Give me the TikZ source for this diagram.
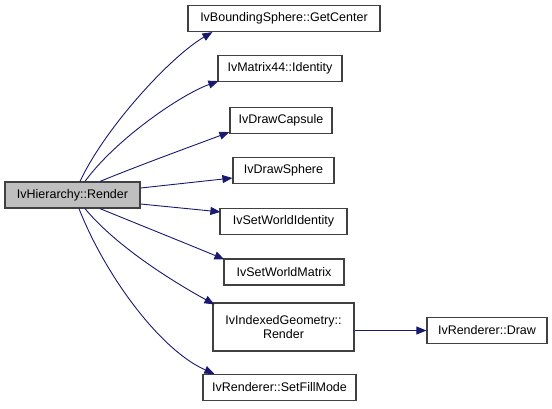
\documentclass[tikz,border=0pt]{standalone}
\usepackage{fontspec}
\setmainfont{Liberation Sans}
\usetikzlibrary{arrows.meta}
\definecolor{edgeblue}{HTML}{191970}
\definecolor{boxline}{HTML}{404040}
\definecolor{boxfill}{HTML}{BFBFBF}
\begin{document}
\begin{tikzpicture}[x=1pt,y=1pt,
  fn/.style={draw=boxline, line width=1.2pt, fill=white, inner sep=0pt, minimum height=26pt,
    font=\fontsize{12.5}{14.5}\selectfont, align=center},
  call/.style={draw=edgeblue, line width=0.9pt, -{Triangle[length=10pt,width=8pt]}}]
\useasboundingbox (0,0) rectangle (552,-408);
\node[fn, fill=boxfill, minimum width=135pt] (render) at (72.5,-195) {IvHierarchy::Render};
\node[fn, minimum width=192pt] (gc) at (284,-18.5) {IvBoundingSphere::GetCenter};
\node[fn, minimum width=124pt] (id) at (280,-68.5) {IvMatrix44::Identity};
\node[fn, minimum width=102pt] (cap) at (281,-120.5) {IvDrawCapsule};
\node[fn, minimum width=101pt] (sph) at (283.5,-170.5) {IvDrawSphere};
\node[fn, minimum width=127pt] (swi) at (283.5,-221.5) {IvSetWorldIdentity};
\node[fn, minimum width=120pt] (swm) at (284,-272) {IvSetWorldMatrix};
\node[fn, minimum width=141pt, minimum height=48pt] (ig) at (283.5,-327) {IvIndexedGeometry::\\Render};
\node[fn, minimum width=120pt] (drw) at (487,-330.5) {IvRenderer::Draw};
\node[fn, minimum width=153pt] (fm) at (279.5,-387.5) {IvRenderer::SetFillMode};

\draw[call] ([xshift=7.5pt]render.north) .. controls (105,-128) and (170,-57) .. ([xshift=25pt]gc.south west);
\draw[call] ([xshift=12.5pt]render.north) .. controls (115,-140) and (180,-95) .. ([xshift=1pt,yshift=1pt]id.south west);
\draw[call] ([xshift=27.5pt]render.north) .. controls (140,-165) and (195,-145) .. ([yshift=2pt]cap.south west);
\draw[call] ([yshift=7pt]render.east) -- ([yshift=-7.5pt]sph.west);
\draw[call] ([yshift=-9pt]render.east) -- ([xshift=1pt,yshift=-4pt]swi.north west);
\draw[call] ([xshift=27.5pt]render.south) .. controls (140,-225) and (190,-245) .. ([xshift=1pt,yshift=-1pt]swm.north west);
\draw[call] ([xshift=12.5pt]render.south) .. controls (115,-245) and (170,-280) .. ([xshift=2pt,yshift=-2pt]ig.north west);
\draw[call] ([xshift=6.5pt]render.south) .. controls (105,-275) and (160,-350) .. ([xshift=12pt]fm.north west);
\draw[call] (ig.east |- drw.west) -- (drw.west);
\end{tikzpicture}
\end{document}
